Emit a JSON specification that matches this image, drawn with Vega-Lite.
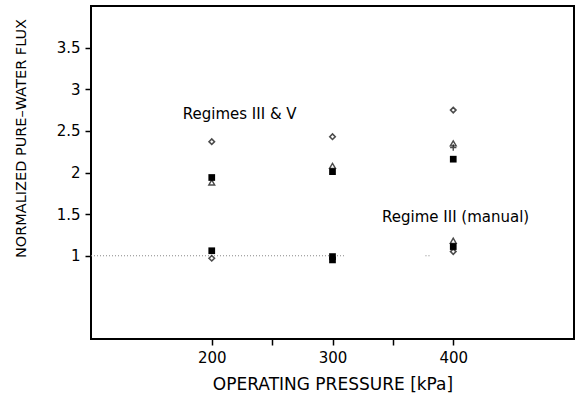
{
  "$schema": "https://vega.github.io/schema/vega-lite/v6.json",
  "autosize": "none",
  "width": 483,
  "height": 333,
  "padding": {"left": 91, "top": 6, "right": 2, "bottom": 57},
  "background": "white",
  "config": {
    "view": {"stroke": "black", "strokeWidth": 2},
    "font": "DejaVu Sans",
    "axis": {"grid": false, "domain": false, "tickColor": "black", "tickWidth": 1.5, "tickSize": 6, "labelColor": "black", "titleColor": "black", "labelFontSize": 15, "titleFontSize": 16, "titleFontWeight": "normal", "labelFont": "DejaVu Sans", "titleFont": "DejaVu Sans"}
  },
  "datasets": {
    "pts": [
      {"p": 200, "v": 2.37, "s": "A"},
      {"p": 200, "v": 1.94, "s": "B"},
      {"p": 200, "v": 1.88, "s": "C"},
      {"p": 200, "v": 1.06, "s": "B"},
      {"p": 200, "v": 0.97, "s": "A"},
      {"p": 300, "v": 2.43, "s": "A"},
      {"p": 300, "v": 2.08, "s": "C"},
      {"p": 300, "v": 2.01, "s": "B"},
      {"p": 300, "v": 0.99, "s": "B"},
      {"p": 300, "v": 0.95, "s": "B"},
      {"p": 400, "v": 2.75, "s": "A"},
      {"p": 400, "v": 2.35, "s": "C"},
      {"p": 400, "v": 2.30, "s": "D"},
      {"p": 400, "v": 2.16, "s": "B"},
      {"p": 400, "v": 1.18, "s": "C"},
      {"p": 400, "v": 1.11, "s": "B"},
      {"p": 400, "v": 1.05, "s": "A"}
    ],
    "ref": [{"x1": 100, "x2": 310, "y": 1}, {"x1": 377, "x2": 381, "y": 1}],
    "labels": [
      {"p": 176, "v": 2.70, "t": "Regimes III & V"},
      {"p": 341, "v": 1.47, "t": "Regime III (manual)"}
    ]
  },
  "layer": [
    {
      "data": {"name": "ref"},
      "mark": {"type": "rule", "color": "#888", "strokeWidth": 1, "strokeDash": [1, 2]},
      "encoding": {
        "x": {"field": "x1", "type": "quantitative", "scale": {"domain": [100, 500], "nice": false, "zero": false},
          "axis": {"values": [200, 250, 300, 350, 400], "labelExpr": "datum.value % 100 == 0 ? datum.label : ''", "title": "OPERATING PRESSURE [kPa]", "titleFontSize": 17, "labelPadding": 5, "titlePadding": 11}},
        "x2": {"field": "x2"},
        "y": {"field": "y", "type": "quantitative", "scale": {"domain": [0, 4], "nice": false, "zero": false},
          "axis": {"values": [1, 1.5, 2, 2.5, 3, 3.5], "format": "~g", "title": "NORMALIZED PURE\u2013WATER FLUX", "titleFontSize": 14.5, "titleY": 132, "labelPadding": 5, "titlePadding": 28}}
      }
    },
    {
      "data": {"name": "pts"},
      "transform": [{"filter": "datum.s == 'A'"}],
      "mark": {"type": "point", "shape": "diamond", "size": 30, "filled": false, "color": "black", "strokeWidth": 1.6},
      "encoding": {"x": {"field": "p", "type": "quantitative"}, "y": {"field": "v", "type": "quantitative"}}
    },
    {
      "data": {"name": "pts"},
      "transform": [{"filter": "datum.s == 'B'"}],
      "mark": {"type": "point", "shape": "square", "size": 45, "filled": true, "color": "black", "opacity": 1},
      "encoding": {"x": {"field": "p", "type": "quantitative"}, "y": {"field": "v", "type": "quantitative"}}
    },
    {
      "data": {"name": "pts"},
      "transform": [{"filter": "datum.s == 'C'"}],
      "mark": {"type": "point", "shape": "triangle-up", "size": 35, "filled": false, "color": "black", "strokeWidth": 1.4},
      "encoding": {"x": {"field": "p", "type": "quantitative"}, "y": {"field": "v", "type": "quantitative"}}
    },
    {
      "data": {"name": "pts"},
      "transform": [{"filter": "datum.s == 'D'"}],
      "mark": {"type": "point", "shape": "M-1,0H1M0,-1V1", "size": 40, "filled": false, "color": "black", "strokeWidth": 1.4},
      "encoding": {"x": {"field": "p", "type": "quantitative"}, "y": {"field": "v", "type": "quantitative"}}
    },
    {
      "data": {"name": "labels"},
      "mark": {"type": "text", "align": "left", "baseline": "middle", "fontSize": 15, "color": "black"},
      "encoding": {"x": {"field": "p", "type": "quantitative"}, "y": {"field": "v", "type": "quantitative"}, "text": {"field": "t"}}
    }
  ]
}
